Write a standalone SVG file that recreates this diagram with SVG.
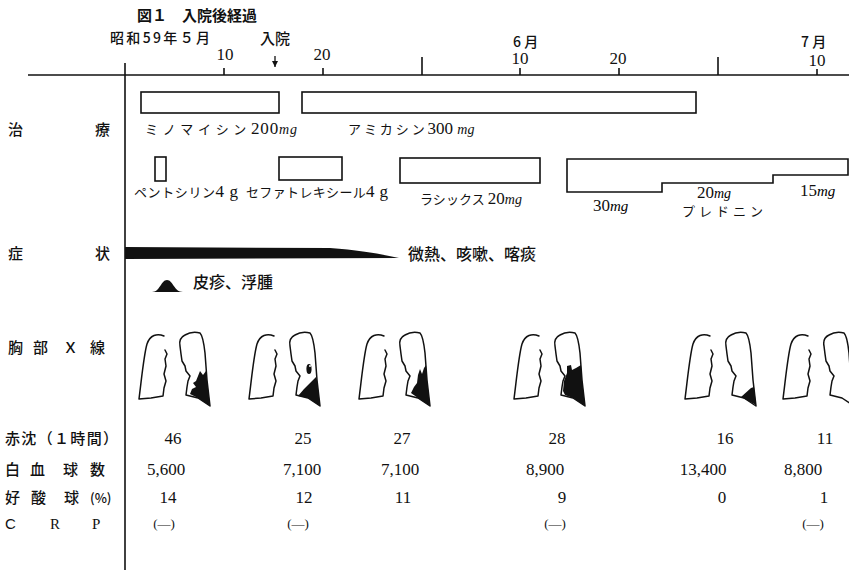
<svg xmlns="http://www.w3.org/2000/svg" xmlns:xlink="http://www.w3.org/1999/xlink" width="849" height="570" viewBox="0 0 849 570">
  <style>
    .jp { font-family: "Noto Sans CJK JP", "Noto Sans", sans-serif; fill: #111; }
    .lab { font-size: 15px; font-weight: 500; }
    .drug { font-size: 13px; }
    .num { font-family: "Liberation Serif", "DejaVu Serif", serif; font-size: 17px; fill: #111; }
    .mg { font-family: "Liberation Serif", serif; font-style: italic; }
    .ax { stroke: #111; stroke-width: 1.6; fill: none; }
    .box { stroke: #111; stroke-width: 1.6; fill: #fff; }
    .lung { stroke: #111; stroke-width: 1.5; fill: none; stroke-linejoin: round; stroke-linecap: round; }
    .shade { fill: #111; }
    .nil { font-size: 13px; }
  </style>
  <defs>
    <!-- outline of a chest film: patient's right lung on the left, left lung on the right -->
    <symbol id="lungs" overflow="visible">
      <path class="lung" d="M34,11 C27,8 20,10 17,19 C14,29 12,50 9,74 L21,73 L33,71 L34,63 L36,56 L34,49 L36,41 L35,34 L37,29 L35,25"/>
      <path class="lung" d="M50,21 C49,16 51,12 55,10 C60,7 66,7 70,8 C73,11 74,19 75,28 L77,55 L80,81 L68,73 L56,70 L57,62 L58,56 L60,51 L56,46 L55,41 L52,36 L51,29 Z"/>
    </symbol>
    <marker id="tip" viewBox="0 0 6 6" refX="6" refY="3" markerWidth="5" markerHeight="5" orient="auto">
      <path d="M0,0 L6,3 L0,6 Z" fill="#111"/>
    </marker>
  </defs>

  <rect width="849" height="570" fill="#fff"/>

  <!-- title and time axis -->
  <g id="title">
    <text class="jp" x="137" y="21" font-size="15" font-weight="700">図１　入院後経過</text>
  </g>
  <g id="time-axis">
    <line class="ax" x1="28" y1="75" x2="849" y2="75"/>
    <line class="ax" x1="125" y1="63" x2="125" y2="570"/>
    <line class="ax" x1="224" y1="68" x2="224" y2="75"/>
    <line class="ax" x1="323" y1="68" x2="323" y2="75"/>
    <line class="ax" x1="422" y1="57" x2="422" y2="75"/>
    <line class="ax" x1="520" y1="68" x2="520" y2="75"/>
    <line class="ax" x1="619" y1="68" x2="619" y2="75"/>
    <line class="ax" x1="718" y1="57" x2="718" y2="75"/>
    <line class="ax" x1="817" y1="69" x2="817" y2="75"/>
    <text class="jp" x="110" y="43" font-size="14" font-weight="500" textLength="100">昭和59年５月</text>
    <text class="jp" x="260" y="44" font-size="15" font-weight="500">入院</text>
    <text class="num" x="225" y="60" text-anchor="middle" font-size="16">10</text>
    <text class="num" x="322" y="60" text-anchor="middle" font-size="16">20</text>
    <text class="jp" x="513" y="47" font-size="14" font-weight="500">6 月</text>
    <text class="num" x="520" y="64" text-anchor="middle" font-size="16">10</text>
    <text class="num" x="618" y="64" text-anchor="middle" font-size="16">20</text>
    <text class="jp" x="801" y="47" font-size="14" font-weight="500">7 月</text>
    <text class="num" x="817" y="66" text-anchor="middle" font-size="16">10</text>
  </g>
  <g id="connectors">
    <line x1="275" y1="56" x2="275" y2="67" stroke="#111" stroke-width="1.3" marker-end="url(#tip)"/>
  </g>

  <!-- row labels -->
  <g id="row-labels" class="jp lab">
    <text x="8" y="135">治</text><text x="95" y="135">療</text>
    <text x="8" y="259">症</text><text x="95" y="259">状</text>
    <text x="8" y="353">胸</text><text x="33" y="353">部</text><text x="63" y="353">Ｘ</text><text x="90" y="353">線</text>
    <text x="5" y="444" textLength="113">赤沈（１時間）</text>
    <text x="5" y="475">白</text><text x="30" y="475">血</text><text x="63" y="475">球</text><text x="90" y="475">数</text>
    <text x="5" y="503">好</text><text x="31" y="503">酸</text><text x="64" y="503">球</text><text x="90" y="503" font-size="13">(%)</text>
    <text x="5" y="529" font-family="Liberation Sans, sans-serif">C</text>
    <text x="50" y="529" font-family="Liberation Serif, serif">R</text>
    <text x="92" y="529" font-family="Liberation Serif, serif">P</text>
  </g>

  <!-- treatment bars -->
  <g id="minomycin">
    <rect class="box" x="141" y="92" width="138" height="21"/>
    <text class="jp drug" x="145" y="134" textLength="152">ミ ノ マ イ シ ン <tspan class="num" font-size="15">200</tspan><tspan class="mg" font-size="14">mg</tspan></text>
  </g>
  <g id="amikacin">
    <rect class="box" x="302" y="92" width="394" height="21"/>
    <text class="jp drug" x="348" y="134">ア ミ カ シ ン <tspan class="num" font-size="15">300 </tspan><tspan class="mg" font-size="14">mg</tspan></text>
  </g>
  <g id="pentcillin">
    <rect class="box" x="155" y="157" width="11" height="24"/>
    <text class="jp drug" x="134" y="197" textLength="104">ペントシリン<tspan class="num" font-size="15">4 g</tspan></text>
  </g>
  <g id="cefatrexyl">
    <rect class="box" x="279" y="157" width="63" height="23"/>
    <text class="jp drug" x="246" y="197" textLength="142">セファトレキシール<tspan class="num" font-size="15">4 g</tspan></text>
  </g>
  <g id="lasix">
    <rect class="box" x="400" y="158" width="140" height="25"/>
    <text class="jp drug" x="420" y="204" textLength="102">ラシックス <tspan class="num" font-size="15">20</tspan><tspan class="mg" font-size="14">mg</tspan></text>
  </g>
  <g id="predonine">
    <path class="box" d="M567,159 L848,159 L848,175 L773,175 L773,183 L662,183 L662,192 L567,192 Z"/>
    <text x="593" y="211" font-size="15"><tspan class="num" font-size="15">30</tspan><tspan class="mg">mg</tspan></text>
    <text x="697" y="198" font-size="14"><tspan class="num" font-size="14">20</tspan><tspan class="mg">mg</tspan></text>
    <text class="jp drug" x="682" y="216" textLength="81">プレドニン</text>
    <text x="800" y="196" font-size="15"><tspan class="num" font-size="15">15</tspan><tspan class="mg">mg</tspan></text>
  </g>

  <!-- symptoms -->
  <g id="symptoms">
    <path class="shade" d="M125,247 L330,248 C360,250 380,254 399,258 L125,259 Z"/>
    <text class="jp" x="408" y="260" font-size="16" font-weight="500">微熱、咳嗽、喀痰</text>
  </g>
  <g id="rash">
    <path class="shade" d="M152,292 C160,292 161,280 167,280 C173,280 174,292 183,292 Z"/>
    <text class="jp" x="193" y="288" font-size="16" font-weight="500">皮疹、浮腫</text>
  </g>

  <!-- chest X-ray sketches -->
  <g id="xray-1" transform="translate(130,325)">
    <use xlink:href="#lungs"/>
    <path class="shade" d="M66,56 L70,46 L73,50 L76,46 L77,55 L80,81 L68,73 L60,69 L62,64 L66,62 L63,58 Z"/>
  </g>
  <g id="xray-2" transform="translate(240,325)">
    <use xlink:href="#lungs"/>
    <path class="shade" d="M58,71 L64,64 L76,52 L77,55 L80,81 L68,73 Z"/>
    <ellipse class="shade" cx="69" cy="44" rx="2.6" ry="5"/>
    <circle cx="70" cy="41" r="1" fill="#fff"/>
  </g>
  <g id="xray-3" transform="translate(350,325)">
    <use xlink:href="#lungs"/>
    <path class="shade" d="M61,68 L64,62 L67,58 L68,50 L70,44 L72,49 L74,43 L76,40 L77,55 L80,81 L68,73 Z"/>
  </g>
  <g id="xray-4" transform="translate(505,325)">
    <use xlink:href="#lungs"/>
    <path class="shade" d="M58,66 L59,56 L62,48 L62,41 L66,40 L67,45 L71,43 L76,40 L77,55 L80,81 L68,73 L60,70 Z"/>
  </g>
  <g id="xray-5" transform="translate(676,325)">
    <use xlink:href="#lungs"/>
    <path class="shade" d="M65,72 L75,63 L78,62 L80,80 Z"/>
  </g>
  <g id="xray-6" transform="translate(774,325)">
    <use xlink:href="#lungs"/>
  </g>

  <!-- laboratory values -->
  <g id="lab-values" class="num">
    <text x="173" y="444" text-anchor="middle">46</text>
    <text x="166" y="475" text-anchor="middle">5,600</text>
    <text x="168" y="503" text-anchor="middle">14</text>
    <text class="nil" x="164" y="528" text-anchor="middle">(—)</text>

    <text x="303" y="444" text-anchor="middle">25</text>
    <text x="302" y="475" text-anchor="middle">7,100</text>
    <text x="304" y="503" text-anchor="middle">12</text>
    <text class="nil" x="298" y="528" text-anchor="middle">(—)</text>

    <text x="402" y="444" text-anchor="middle">27</text>
    <text x="400" y="475" text-anchor="middle">7,100</text>
    <text x="403" y="503" text-anchor="middle">11</text>

    <text x="557" y="444" text-anchor="middle">28</text>
    <text x="545" y="475" text-anchor="middle">8,900</text>
    <text x="562" y="503" text-anchor="middle">9</text>
    <text class="nil" x="555" y="528" text-anchor="middle">(—)</text>

    <text x="725" y="444" text-anchor="middle">16</text>
    <text x="703" y="475" text-anchor="middle">13,400</text>
    <text x="722" y="503" text-anchor="middle">0</text>

    <text x="825" y="444" text-anchor="middle">11</text>
    <text x="803" y="475" text-anchor="middle">8,800</text>
    <text x="824" y="503" text-anchor="middle">1</text>
    <text class="nil" x="813" y="528" text-anchor="middle">(—)</text>
  </g>
</svg>
